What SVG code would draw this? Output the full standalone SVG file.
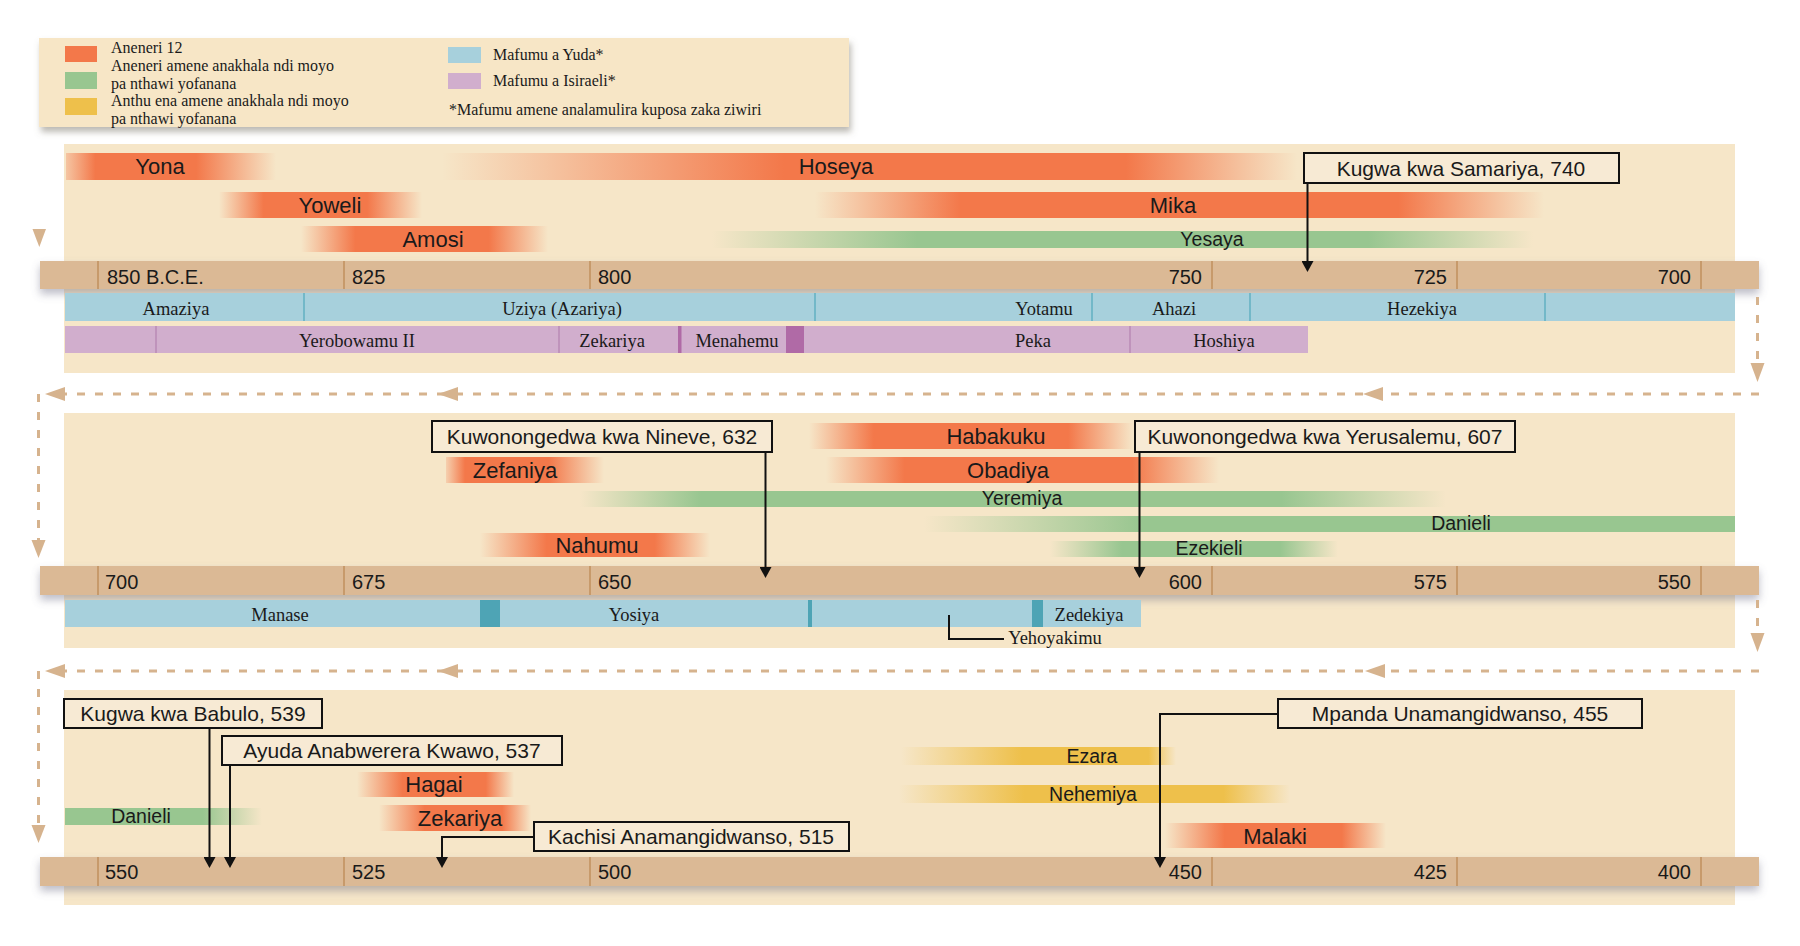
<svg xmlns="http://www.w3.org/2000/svg" width="1800" height="946" viewBox="0 0 1800 946">
<style>
.bg{fill:#f6e6c8}
.axis{fill:#dbb995}
.tick{stroke:#c0905e;stroke-width:1.5}
.ax{font-family:"Liberation Sans",Arial,sans-serif;font-size:20px;fill:#1a1a1a}
.axe{font-family:"Liberation Sans",Arial,sans-serif;font-size:20px;fill:#1a1a1a;text-anchor:end}
.blue{fill:#a7d0dc}
.bdiv{stroke:#62b0c2;stroke-width:1.5}
.teal{fill:#4ea4b5}
.purple{fill:#d1aecd}
.pdiv{stroke:#b98ab5;stroke-width:1.5}
.dpurple{fill:#b06aa6}
.king{font-family:"Liberation Serif","Times New Roman",serif;font-size:18.5px;fill:#1a1a1a;text-anchor:middle}
.leg{font-family:"Liberation Serif","Times New Roman",serif;font-size:16px;fill:#1a1a1a}
.pn{font-family:"Liberation Sans",Arial,sans-serif;font-size:22px;fill:#1a1a1a;text-anchor:middle}
.gn{font-family:"Liberation Sans",Arial,sans-serif;font-size:19.5px;fill:#1a1a1a;text-anchor:middle}
.box{fill:#f7ead4;stroke:#111;stroke-width:2}
.bt{font-family:"Liberation Sans",Arial,sans-serif;font-size:21px;fill:#1a1a1a;text-anchor:middle}
.arr{fill:none;stroke:#111;stroke-width:2}
.dash{fill:none;stroke:#d6b38e;stroke-width:3;stroke-dasharray:8 10}
.tanhead{fill:#d6b38e}
.o stop{stop-color:#f3784a}
.g stop{stop-color:#98c690}
.y stop{stop-color:#eec04b}
</style>
<defs>
<filter id="sh" x="-5%" y="-50%" width="110%" height="220%">
<feDropShadow dx="0" dy="5" stdDeviation="4" flood-color="#6d6e84" flood-opacity="0.45"/>
</filter>
<filter id="lsh" x="-5%" y="-20%" width="110%" height="150%">
<feDropShadow dx="2" dy="5" stdDeviation="3" flood-color="#7a7468" flood-opacity="0.5"/>
</filter>
<marker id="ah" markerUnits="userSpaceOnUse" markerWidth="12" markerHeight="12" refX="3" refY="6" orient="auto">
<path d="M0,0 L11,6 L0,12 z" fill="#111"/>
</marker>
<linearGradient id="gYona" class="o"><stop offset="0" stop-opacity="0.3"/><stop offset="0.14"/><stop offset="0.62"/><stop offset="1" stop-opacity="0"/></linearGradient>
<linearGradient id="gHoseya" class="o"><stop offset="0" stop-opacity="0"/><stop offset="0.4"/><stop offset="0.8"/><stop offset="1" stop-opacity="0"/></linearGradient>
<linearGradient id="gYoweli" class="o"><stop offset="0" stop-opacity="0"/><stop offset="0.22"/><stop offset="0.73"/><stop offset="1" stop-opacity="0"/></linearGradient>
<linearGradient id="gMika" class="o"><stop offset="0" stop-opacity="0"/><stop offset="0.2"/><stop offset="0.8"/><stop offset="1" stop-opacity="0"/></linearGradient>
<linearGradient id="gAmosi" class="o"><stop offset="0" stop-opacity="0"/><stop offset="0.22"/><stop offset="0.76"/><stop offset="1" stop-opacity="0"/></linearGradient>
<linearGradient id="gYesaya" class="g"><stop offset="0" stop-opacity="0"/><stop offset="0.25"/><stop offset="0.8"/><stop offset="1" stop-opacity="0"/></linearGradient>
<linearGradient id="gHabakuku" class="o"><stop offset="0" stop-opacity="0"/><stop offset="0.2"/><stop offset="0.8"/><stop offset="1" stop-opacity="0"/></linearGradient>
<linearGradient id="gZefaniya" class="o"><stop offset="0" stop-opacity="0.2"/><stop offset="0.12"/><stop offset="0.65"/><stop offset="1" stop-opacity="0"/></linearGradient>
<linearGradient id="gObadiya" class="o"><stop offset="0" stop-opacity="0"/><stop offset="0.2"/><stop offset="0.78"/><stop offset="1" stop-opacity="0"/></linearGradient>
<linearGradient id="gYeremiya" class="g"><stop offset="0" stop-opacity="0"/><stop offset="0.14"/><stop offset="0.81"/><stop offset="1" stop-opacity="0"/></linearGradient>
<linearGradient id="gDanieli" class="g"><stop offset="0" stop-opacity="0"/><stop offset="0.27"/><stop offset="1"/></linearGradient>
<linearGradient id="gEzekieli" class="g"><stop offset="0" stop-opacity="0"/><stop offset="0.25"/><stop offset="0.8"/><stop offset="1" stop-opacity="0"/></linearGradient>
<linearGradient id="gNahumu" class="o"><stop offset="0" stop-opacity="0"/><stop offset="0.29"/><stop offset="0.76"/><stop offset="1" stop-opacity="0"/></linearGradient>
<linearGradient id="gHagai" class="o"><stop offset="0" stop-opacity="0"/><stop offset="0.29"/><stop offset="0.82"/><stop offset="1" stop-opacity="0"/></linearGradient>
<linearGradient id="gDanieli2" class="g"><stop offset="0"/><stop offset="0.7"/><stop offset="1" stop-opacity="0"/></linearGradient>
<linearGradient id="gZekariya" class="o"><stop offset="0" stop-opacity="0"/><stop offset="0.3"/><stop offset="0.81"/><stop offset="1" stop-opacity="0"/></linearGradient>
<linearGradient id="gEzara" class="y"><stop offset="0" stop-opacity="0"/><stop offset="0.44"/><stop offset="0.9"/><stop offset="1" stop-opacity="0"/></linearGradient>
<linearGradient id="gNehemiya" class="y"><stop offset="0" stop-opacity="0"/><stop offset="0.32"/><stop offset="0.83"/><stop offset="1" stop-opacity="0"/></linearGradient>
<linearGradient id="gMalaki" class="o"><stop offset="0" stop-opacity="0"/><stop offset="0.27"/><stop offset="0.8"/><stop offset="1" stop-opacity="0"/></linearGradient>
</defs>

<rect width="1800" height="946" fill="#ffffff"/>

<!-- Legend -->
<g id="legend">
<rect x="39" y="38" width="810" height="89" fill="#f7e6c6" filter="url(#lsh)"/>
<rect x="65" y="46" width="32" height="16" fill="#f3784a"/>
<rect x="65" y="72" width="32" height="17" fill="#98c690"/>
<rect x="65" y="98" width="32" height="17" fill="#eec04b"/>
<rect x="448" y="47" width="33" height="16" fill="#a7d0dc"/>
<rect x="448" y="73" width="33" height="16" fill="#d1aecd"/>
<text class="leg" x="111" y="53">Aneneri 12</text>
<text class="leg" x="111" y="71">Aneneri amene anakhala ndi moyo</text>
<text class="leg" x="111" y="88.5">pa nthawi yofanana</text>
<text class="leg" x="111" y="106">Anthu ena amene anakhala ndi moyo</text>
<text class="leg" x="111" y="123.5">pa nthawi yofanana</text>
<text class="leg" x="493" y="60">Mafumu a Yuda*</text>
<text class="leg" x="493" y="86">Mafumu a Isiraeli*</text>
<text class="leg" x="449" y="115">*Mafumu amene analamulira kuposa zaka ziwiri</text>
</g>

<!-- Section 1 -->
<g id="section1">
<rect class="bg" x="64" y="144" width="1671" height="229"/>
<g id="axis1">
<rect class="axis" x="40" y="261" width="1719" height="28" filter="url(#sh)"/>
<line class="tick" x1="98" y1="261" x2="98" y2="289"/>
<line class="tick" x1="344" y1="261" x2="344" y2="289"/>
<line class="tick" x1="590" y1="261" x2="590" y2="289"/>
<line class="tick" x1="1212" y1="261" x2="1212" y2="289"/>
<line class="tick" x1="1457" y1="261" x2="1457" y2="289"/>
<line class="tick" x1="1701" y1="261" x2="1701" y2="289"/>
<text class="ax" x="107" y="284">850 B.C.E.</text>
<text class="ax" x="352" y="284">825</text>
<text class="ax" x="598" y="284">800</text>
<text class="axe" x="1202" y="284">750</text>
<text class="axe" x="1447" y="284">725</text>
<text class="axe" x="1691" y="284">700</text>
</g>
<g id="judah1">
<rect class="blue" x="65" y="293" width="1670" height="28"/>
<line class="bdiv" x1="304" y1="293" x2="304" y2="321"/>
<line class="bdiv" x1="815" y1="293" x2="815" y2="321"/>
<line class="bdiv" x1="1092" y1="293" x2="1092" y2="321"/>
<line class="bdiv" x1="1250" y1="293" x2="1250" y2="321"/>
<line class="bdiv" x1="1545" y1="293" x2="1545" y2="321"/>
<text class="king" x="176" y="315">Amaziya</text>
<text class="king" x="562" y="315">Uziya (Azariya)</text>
<text class="king" x="1044" y="315">Yotamu</text>
<text class="king" x="1174" y="315">Ahazi</text>
<text class="king" x="1422" y="315">Hezekiya</text>
</g>
<g id="israel1">
<rect class="purple" x="65" y="326" width="1243" height="27"/>
<line class="pdiv" x1="156" y1="326" x2="156" y2="353"/>
<line class="pdiv" x1="559" y1="326" x2="559" y2="353"/>
<rect class="dpurple" x="678" y="326" width="3.5" height="27"/>
<rect class="dpurple" x="786" y="326" width="18" height="27"/>
<line class="pdiv" x1="1130" y1="326" x2="1130" y2="353"/>
<text class="king" x="357" y="347">Yerobowamu II</text>
<text class="king" x="612" y="347">Zekariya</text>
<text class="king" x="737" y="347">Menahemu</text>
<text class="king" x="1033" y="347">Peka</text>
<text class="king" x="1224" y="347">Hoshiya</text>
</g>
<g id="yona"><rect x="66" y="153" width="210" height="27" fill="url(#gYona)"/><text class="pn" x="160" y="174">Yona</text></g>
<g id="hoseya"><rect x="442" y="153" width="855" height="27" fill="url(#gHoseya)"/><text class="pn" x="836" y="174">Hoseya</text></g>
<g id="yoweli"><rect x="219" y="192" width="203" height="26" fill="url(#gYoweli)"/><text class="pn" x="330" y="213">Yoweli</text></g>
<g id="mika"><rect x="815" y="192" width="729" height="26" fill="url(#gMika)"/><text class="pn" x="1173" y="213">Mika</text></g>
<g id="amosi"><rect x="301" y="226" width="247" height="26" fill="url(#gAmosi)"/><text class="pn" x="433" y="247">Amosi</text></g>
<g id="yesaya"><rect x="712" y="231" width="821" height="17" fill="url(#gYesaya)"/><text class="gn" x="1212" y="246">Yesaya</text></g>
<g id="box-samariya"><rect class="box" x="1304" y="153" width="315" height="30"/><text class="bt" x="1461" y="176">Kugwa kwa Samariya, 740</text></g>
</g>

<!-- Section 2 -->
<g id="section2">
<rect class="bg" x="64" y="413" width="1671" height="235"/>
<g id="axis2">
<rect class="axis" x="40" y="566" width="1719" height="29" filter="url(#sh)"/>
<line class="tick" x1="98" y1="566" x2="98" y2="595"/>
<line class="tick" x1="344" y1="566" x2="344" y2="595"/>
<line class="tick" x1="590" y1="566" x2="590" y2="595"/>
<line class="tick" x1="1212" y1="566" x2="1212" y2="595"/>
<line class="tick" x1="1457" y1="566" x2="1457" y2="595"/>
<line class="tick" x1="1701" y1="566" x2="1701" y2="595"/>
<text class="ax" x="105" y="589">700</text>
<text class="ax" x="352" y="589">675</text>
<text class="ax" x="598" y="589">650</text>
<text class="axe" x="1202" y="589">600</text>
<text class="axe" x="1447" y="589">575</text>
<text class="axe" x="1691" y="589">550</text>
</g>
<g id="judah2">
<rect class="blue" x="65" y="600" width="1076" height="27"/>
<rect class="teal" x="480" y="600" width="20" height="27"/>
<rect class="teal" x="808" y="600" width="4" height="27"/>
<rect class="teal" x="1032" y="600" width="11" height="27"/>
<text class="king" x="280" y="621">Manase</text>
<text class="king" x="634" y="621">Yosiya</text>
<text class="king" x="1089" y="621">Zedekiya</text>
</g>
<g id="yehoyakimu">
<path d="M949,615 V639 H1004" fill="none" stroke="#111" stroke-width="2"/>
<text class="king" x="1055" y="644">Yehoyakimu</text>
</g>
<g id="habakuku"><rect x="809" y="423" width="324" height="26" fill="url(#gHabakuku)"/><text class="pn" x="996" y="444">Habakuku</text></g>
<g id="zefaniya"><rect x="446" y="457" width="158" height="26" fill="url(#gZefaniya)"/><text class="pn" x="515" y="478">Zefaniya</text></g>
<g id="obadiya"><rect x="826" y="457" width="393" height="26" fill="url(#gObadiya)"/><text class="pn" x="1008" y="478">Obadiya</text></g>
<g id="yeremiya"><rect x="580" y="491" width="866" height="16" fill="url(#gYeremiya)"/><text class="gn" x="1022" y="505">Yeremiya</text></g>
<g id="danieli"><rect x="924" y="516" width="811" height="16" fill="url(#gDanieli)"/><text class="gn" x="1461" y="530">Danieli</text></g>
<g id="ezekieli"><rect x="1050" y="541" width="288" height="16" fill="url(#gEzekieli)"/><text class="gn" x="1209" y="555">Ezekieli</text></g>
<g id="nahumu"><rect x="480" y="533" width="230" height="24" fill="url(#gNahumu)"/><text class="pn" x="597" y="553">Nahumu</text></g>
<g id="box-nineve"><rect class="box" x="432" y="421" width="340" height="31"/><text class="bt" x="602" y="444">Kuwonongedwa kwa Nineve, 632</text></g>
<g id="box-yerusalemu"><rect class="box" x="1135" y="421" width="380" height="31"/><text class="bt" x="1325" y="444">Kuwonongedwa kwa Yerusalemu, 607</text></g>
</g>

<!-- Section 3 -->
<g id="section3">
<rect class="bg" x="64" y="690" width="1671" height="215"/>
<g id="axis3">
<rect class="axis" x="40" y="857" width="1719" height="29" filter="url(#sh)"/>
<line class="tick" x1="98" y1="857" x2="98" y2="886"/>
<line class="tick" x1="344" y1="857" x2="344" y2="886"/>
<line class="tick" x1="590" y1="857" x2="590" y2="886"/>
<line class="tick" x1="1212" y1="857" x2="1212" y2="886"/>
<line class="tick" x1="1457" y1="857" x2="1457" y2="886"/>
<line class="tick" x1="1701" y1="857" x2="1701" y2="886"/>
<text class="ax" x="105" y="879">550</text>
<text class="ax" x="352" y="879">525</text>
<text class="ax" x="598" y="879">500</text>
<text class="axe" x="1202" y="879">450</text>
<text class="axe" x="1447" y="879">425</text>
<text class="axe" x="1691" y="879">400</text>
</g>
<g id="hagai"><rect x="357" y="772" width="157" height="25" fill="url(#gHagai)"/><text class="pn" x="434" y="792">Hagai</text></g>
<g id="danieli2"><rect x="65" y="808" width="197" height="17" fill="url(#gDanieli2)"/><text class="gn" x="141" y="823">Danieli</text></g>
<g id="zekariya"><rect x="379" y="805" width="152" height="26" fill="url(#gZekariya)"/><text class="pn" x="460" y="826">Zekariya</text></g>
<g id="ezara"><rect x="901" y="747" width="275" height="18" fill="url(#gEzara)"/><text class="gn" x="1092" y="763">Ezara</text></g>
<g id="nehemiya"><rect x="899" y="785" width="391" height="18" fill="url(#gNehemiya)"/><text class="gn" x="1093" y="801">Nehemiya</text></g>
<g id="malaki"><rect x="1165" y="823" width="221" height="25" fill="url(#gMalaki)"/><text class="pn" x="1275" y="844">Malaki</text></g>
<g id="box-babulo"><rect class="box" x="64" y="699" width="258" height="29"/><text class="bt" x="193" y="721">Kugwa kwa Babulo, 539</text></g>
<g id="box-ayuda"><rect class="box" x="222" y="736" width="340" height="29"/><text class="bt" x="392" y="758">Ayuda Anabwerera Kwawo, 537</text></g>
<g id="box-kachisi"><rect class="box" x="534" y="822" width="315" height="29"/><text class="bt" x="691" y="844">Kachisi Anamangidwanso, 515</text></g>
<g id="box-mpanda"><rect class="box" x="1278" y="699" width="364" height="29"/><text class="bt" x="1460" y="721">Mpanda Unamangidwanso, 455</text></g>
</g>

<!-- Connectors -->
<g id="connectors">
<path class="arr" d="M1307.5,183 V264" marker-end="url(#ah)"/>
<path class="arr" d="M765.5,452 V570" marker-end="url(#ah)"/>
<path class="arr" d="M1139.5,452 V570" marker-end="url(#ah)"/>
<path class="arr" d="M209.5,728 V860" marker-end="url(#ah)"/>
<path class="arr" d="M230,765 V860" marker-end="url(#ah)"/>
<path class="arr" d="M534,837 H442 V860" marker-end="url(#ah)"/>
<path class="arr" d="M1278,714 H1160 V860" marker-end="url(#ah)"/>

<polygon class="tanhead" points="32.5,229 46,229 39.3,247"/>
<path class="dash" d="M1757.5,297 V364"/>
<polygon class="tanhead" points="1750.5,363 1764.5,363 1757.5,382"/>
<path class="dash" d="M1759,394 H62"/>
<polygon class="tanhead" points="1363,394 1383,387 1383,401"/>
<polygon class="tanhead" points="438,394 458,387 458,401"/>
<polygon class="tanhead" points="45,394 65,387 65,401"/>
<path class="dash" d="M38.5,394 V541"/>
<polygon class="tanhead" points="31.5,540 45.5,540 38.5,558"/>

<path class="dash" d="M1757.5,600 V634"/>
<polygon class="tanhead" points="1750.5,633 1764.5,633 1757.5,652"/>
<path class="dash" d="M1759,671 H62"/>
<polygon class="tanhead" points="1365,671 1385,664 1385,678"/>
<polygon class="tanhead" points="438,671 458,664 458,678"/>
<polygon class="tanhead" points="45,671 65,664 65,678"/>
<path class="dash" d="M38.5,671 V826"/>
<polygon class="tanhead" points="31.5,825 45.5,825 38.5,843"/>
</g>
</svg>
